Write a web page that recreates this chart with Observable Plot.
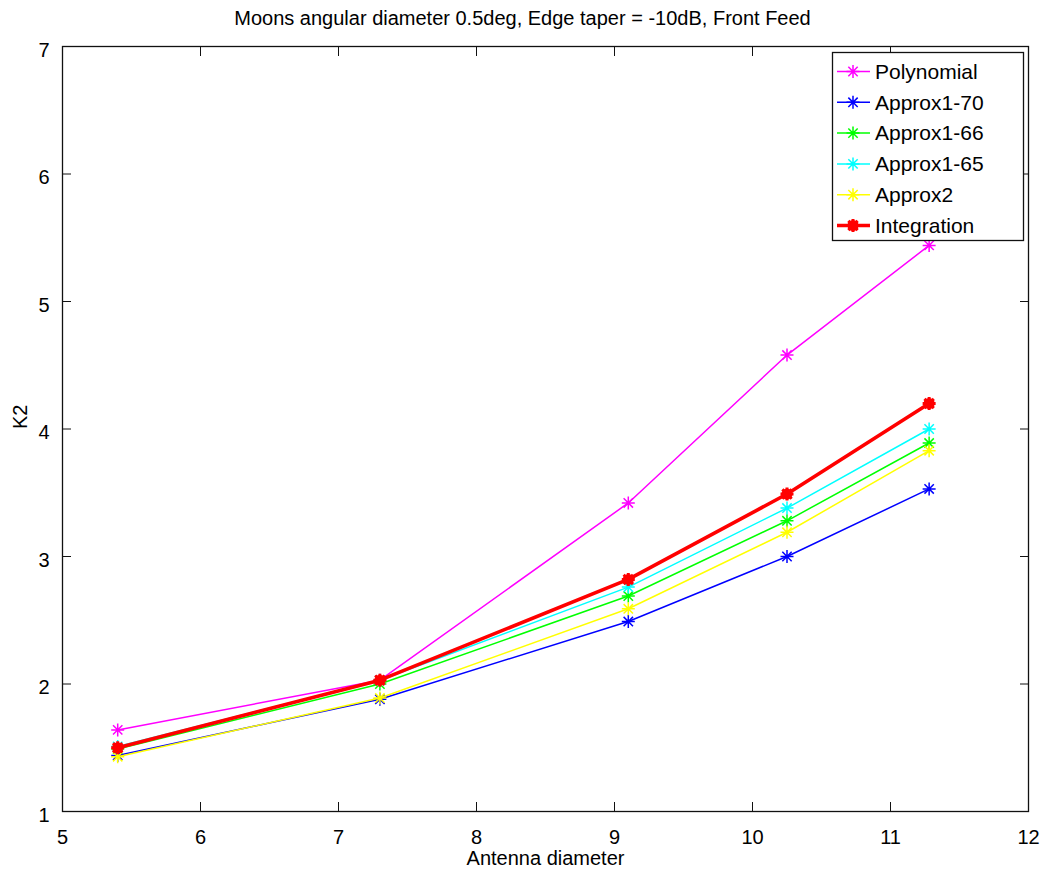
<!DOCTYPE html>
<html><head><meta charset="utf-8">
<script src="https://cdn.jsdelivr.net/npm/d3@7"></script>
<script src="https://cdn.jsdelivr.net/npm/@observablehq/plot@0.6"></script>
<style>
body{margin:0;background:#fff;font-family:"Liberation Sans",Arial,sans-serif;}
#title{height:36px;line-height:36px;text-align:center;font-size:20px;color:#000;white-space:nowrap;}
#chart svg{display:block;}
</style></head><body>
<div id="title">Moons angular diameter 0.5deg, Edge taper = -10dB, Front Feed</div>
<div id="chart"></div>
<script>
const diameters   = [5.4, 7.3, 9.1, 10.25, 11.28];
const polynomial  = [1.64, 2.03, 3.42, 4.58, 5.44];
const approx1_70  = [1.44, 1.88, 2.49, 3.00, 3.53];
const approx1_66  = [1.49, 2.00, 2.69, 3.28, 3.89];
const approx1_65  = [1.51, 2.03, 2.76, 3.38, 4.00];
const approx2     = [1.43, 1.89, 2.59, 3.19, 3.83];
const integration = [1.50, 2.03, 2.82, 3.49, 4.20];
const seriesNames  = ["Polynomial", "Approx1-70", "Approx1-66", "Approx1-65", "Approx2", "Integration"];
const seriesColors = ["#ff00ff", "#0000ff", "#00ff00", "#00ffff", "#ffff00", "#ff0000"];
const seriesValues = [polynomial, approx1_70, approx1_66, approx1_65, approx2, integration];
const xTicks = [5, 6, 7, 8, 9, 10, 11, 12];
const yTicks = [1, 2, 3, 4, 5, 6, 7];
const titleText = "Moons angular diameter 0.5deg, Edge taper = -10dB, Front Feed";
const xLabel = "Antenna diameter";
const yLabel = "K2";

const asterisk = {
  draw(ctx, size) {
    const r = Math.sqrt(size / Math.PI), d = r * 0.72;
    ctx.moveTo(-r, 0); ctx.lineTo(r, 0);
    ctx.moveTo(0, -r); ctx.lineTo(0, r);
    ctx.moveTo(-d, -d); ctx.lineTo(d, d);
    ctx.moveTo(-d, d); ctx.lineTo(d, -d);
  }
};

const series = seriesNames.map((name, i) => ({
  name, color: seriesColors[i],
  rows: diameters.map((x, j) => ({x, y: seriesValues[i][j], name}))
}));

const marks = [];
series.forEach((s) => {
  const isInt = s.name === "Integration";
  marks.push(Plot.line(s.rows, {x: "x", y: "y", stroke: s.color, strokeWidth: isInt ? 3.6 : 1.5}));
  if (isInt) marks.push(Plot.dot(s.rows, {x: "x", y: "y", r: 5.5, fill: s.color, stroke: "none"}));
  marks.push(Plot.dot(s.rows, {x: "x", y: "y", symbol: asterisk, r: 6.5, fill: "none", stroke: s.color, strokeWidth: isInt ? 3 : 1.5}));
});

const fmt = d => String(d);
const chart = Plot.plot({
  width: 1045, height: 839,
  marginTop: 10, marginBottom: 64, marginLeft: 62, marginRight: 17,
  style: {fontFamily: '"Liberation Sans", Arial, sans-serif', fontSize: "20px", background: "white", overflow: "visible", color: "black"},
  x: {domain: [5, 12]},
  y: {domain: [1, 7]},
  marks: [
    ...marks,
    Plot.frame({stroke: "#111", strokeWidth: 1.3}),
    Plot.axisX({ticks: xTicks, anchor: "bottom", tickSize: 0, tickPadding: 18, fontSize: 20, tickFormat: fmt, label: null}),
    Plot.axisX({ticks: xTicks, anchor: "bottom", tickSize: -9, tickFormat: () => "", label: null, stroke: "#111"}),
    Plot.axisX({ticks: xTicks, anchor: "top", tickSize: -9, tickFormat: () => "", label: null, stroke: "#111"}),
    Plot.axisY({ticks: yTicks, anchor: "left", tickSize: 0, tickPadding: 13, dy: 4, fontSize: 20, tickFormat: fmt, label: null}),
    Plot.axisY({ticks: yTicks, anchor: "left", tickSize: -9, tickFormat: () => "", label: null, stroke: "#111"}),
    Plot.axisY({ticks: yTicks, anchor: "right", tickSize: -9, tickFormat: () => "", label: null, stroke: "#111"}),
    Plot.text([xLabel], {text: d => d, frameAnchor: "bottom", dy: 53, fontSize: 20}),
    Plot.text([yLabel], {text: d => d, frameAnchor: "left", dx: -42, rotate: -90, fontSize: 20})
  ]
});

document.getElementById("title").textContent = titleText;
document.getElementById("chart").appendChild(chart);

// Legend
const svg = d3.select(chart);
const lg = svg.append("g").attr("class", "legend").attr("text-anchor", "start");
lg.append("rect").attr("x", 832.5).attr("y", 16.5).attr("width", 191).attr("height", 188)
  .attr("fill", "white").attr("stroke", "#111").attr("stroke-width", 1.3);
series.forEach((s, i) => {
  const cy = 35.5 + i * 30.8;
  const isInt = s.name === "Integration";
  lg.append("line").attr("x1", 837).attr("x2", 870).attr("y1", cy).attr("y2", cy)
    .attr("stroke", s.color).attr("stroke-width", isInt ? 3.6 : 1.5);
  if (isInt) lg.append("circle").attr("cx", 853).attr("cy", cy).attr("r", 5.5).attr("fill", s.color);
  lg.append("path").attr("transform", `translate(853,${cy})`)
    .attr("d", d3.symbol(asterisk, Math.PI * 6.5 * 6.5)())
    .attr("fill", "none").attr("stroke", s.color).attr("stroke-width", isInt ? 3 : 1.5);
  lg.append("text").attr("x", 875).attr("y", cy).attr("dy", "0.35em")
    .attr("text-anchor", "start").attr("font-size", 21).attr("fill", "black").text(s.name);
});
</script>
</body></html>
